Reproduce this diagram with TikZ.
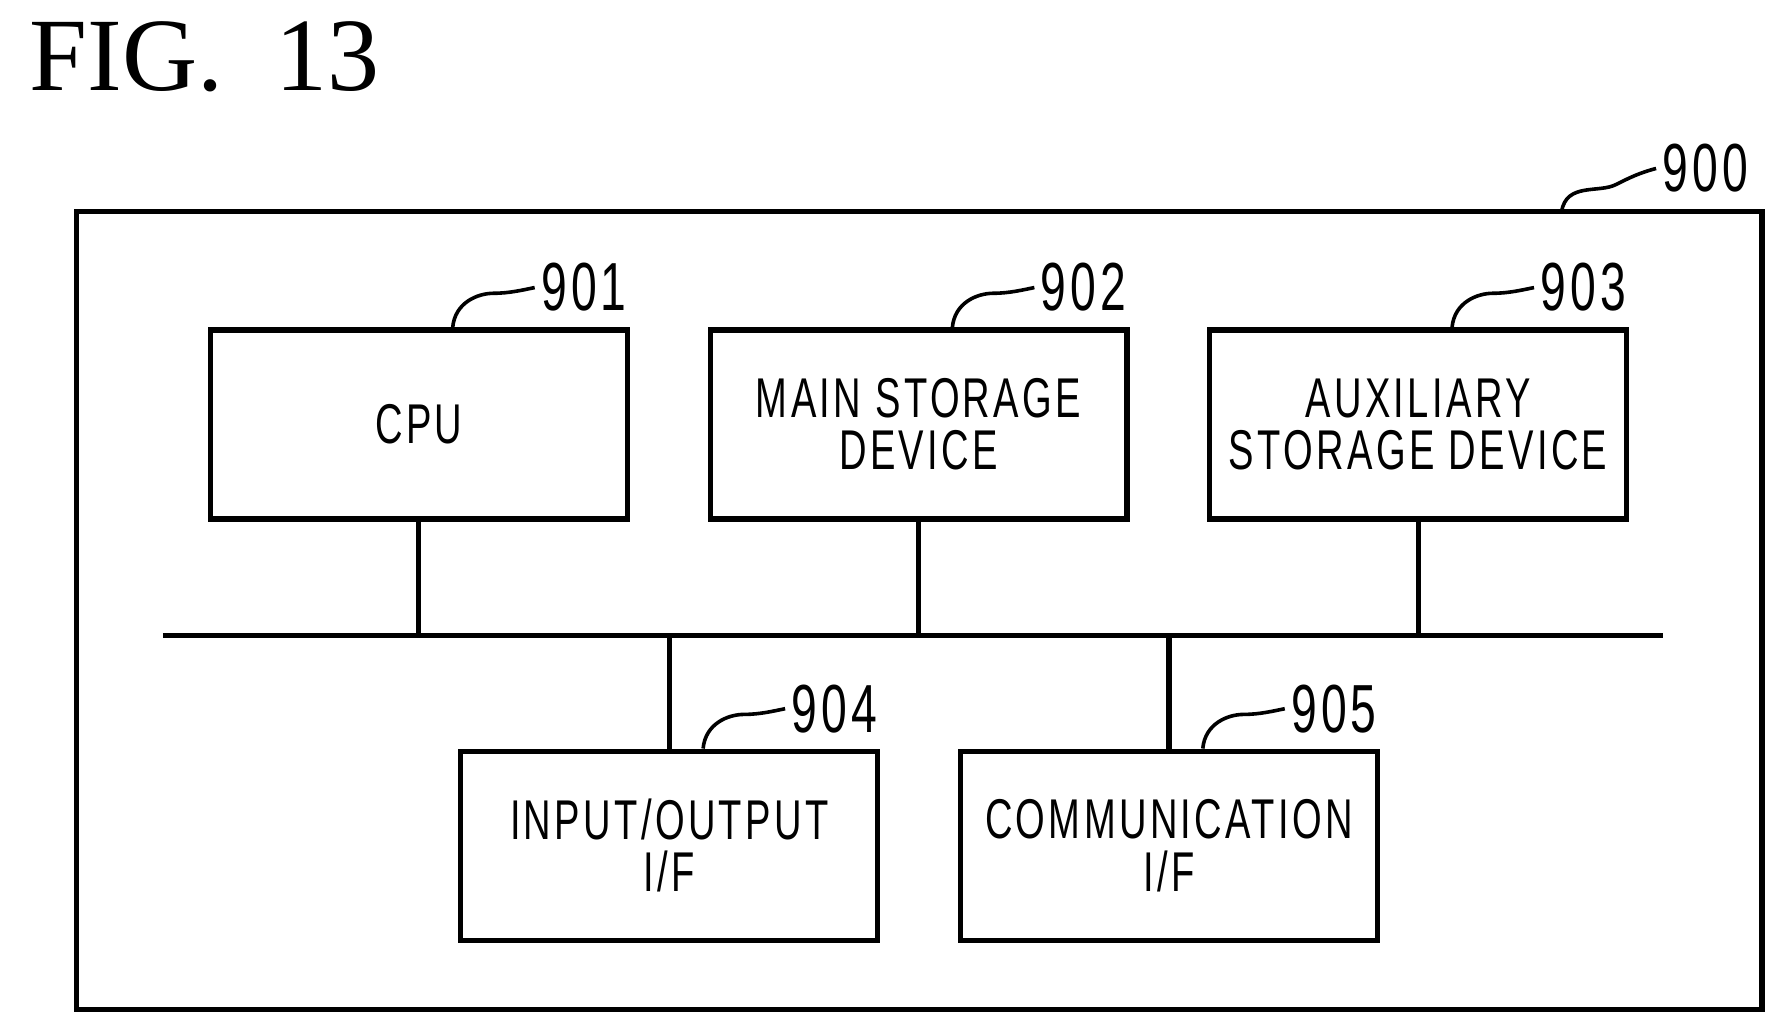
\documentclass[tikz,border=0pt]{standalone}
\usepackage{fontspec}
\setmainfont{Liberation Serif}
\newfontfamily\boxfont[FakeStretch=0.68,LetterSpace=6]{Liberation Sans}
\usetikzlibrary{positioning}
\begin{document}
\begin{tikzpicture}[x=0.01cm,y=-0.01cm,line width=1.3pt,
  unit/.style={draw,minimum width=3.66cm,minimum height=1.66cm,align=center,
    font=\boxfont\fontsize{14}{13}\selectfont,inner sep=0pt},
  refnum/.style={anchor=west,inner sep=1pt,font=\boxfont\fontsize{17}{20}\selectfont},
  leader/.style={line width=0.9pt}]
  \useasboundingbox (0,0) rectangle (1563,905);
  \node[anchor=west,font=\fontsize{26}{30}\selectfont] (fig) at (12,50) {FIG.\ \ 13};

  %% outer frame
  \draw (67,186) rectangle (1548,887);
  \coordinate (o) at (1372,186);
  \node[refnum] (n900) at (1455,148) {900};
  \draw[leader] (o) .. controls (1376,160) and (1405,170) .. (1420,162) .. controls (1432,156) and (1440,152) .. (n900.west);

  %% upper units
  \node[unit] (cpu) at (368,373) {CPU};
  \node[unit] (main) at (807,373) {MAIN STORAGE\\DEVICE};
  \node[unit] (aux) at (1246,373) {AUXILIARY\\STORAGE DEVICE};
  %% lower units
  \node[unit] (io) at (588,743) {INPUT/OUTPUT\\I/F};
  \node[unit] (comm) at (1027,743) {COMMUNICATION\\I/F};

  %% bus
  \coordinate (busl) at (143,558);
  \coordinate (busr) at (1461,558);
  \draw (busl) -- (busr);
  \foreach \u in {cpu,main,aux}
    \draw (\u.south) -- (\u.south |- busl);
  \foreach \u in {io,comm}
    \draw (\u.north) -- (\u.north |- busl);

  %% reference numbers
  \foreach \u/\n in {cpu/901,main/902,aux/903,io/904,comm/905}{
    \coordinate (\u t) at ([xshift=2.15cm]\u.north west);
    \node[refnum] (r\n) at ([xshift=0.72cm,yshift=0.35cm]\u t) {\n};
    \draw[leader] (\u t) .. controls +(2,-22) and +(-14,0) .. ([xshift=-0.36cm,yshift=-0.05cm]r\n.west)
      .. controls +(14,0) and +(-10,2) .. (r\n.west);
  }
\end{tikzpicture}
\end{document}
